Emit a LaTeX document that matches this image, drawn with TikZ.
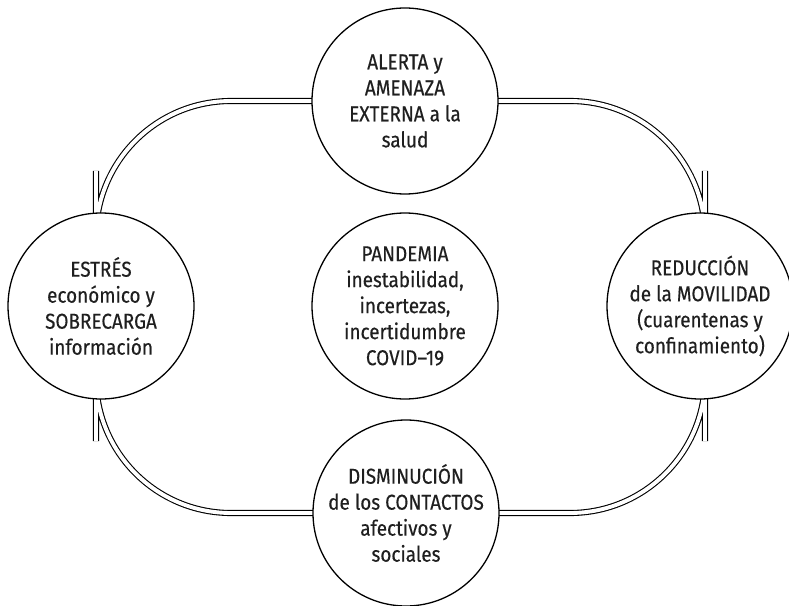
\documentclass[tikz,border=0pt]{standalone}
\usepackage{fontspec}
\setmainfont{Fira Sans}[FakeStretch=0.88,FakeBold=0.35]
\usetikzlibrary{backgrounds}
\begin{document}
\begin{tikzpicture}[x=1bp,y=-1bp,
  bubble/.style={circle, draw, line width=1.3bp, fill=white, minimum size=186bp,
    inner sep=0pt, align=center, text=black!88,
    font=\fontsize{21.5bp}{26bp}\selectfont},
  ring/.style={double, line width=1.1bp, double distance=3.9bp, rounded corners=135bp}]
\useasboundingbox (0,0) rectangle (789,606);
\node[bubble] (top) at (405,101) {ALERTA y\\AMENAZA\\EXTERNA a la\\salud};
\node[bubble] (left) at (101,306) {ESTRÉS\\económico y\\SOBRECARGA\\información};
\node[bubble] (center) at (405,306) {PANDEMIA\\inestabilidad,\\incertezas,\\incertidumbre\\COVID–19};
\node[bubble] (right) at (700,306) {REDUCCIÓN\\de la MOVILIDAD\\(cuarentenas y\\confinamiento)};
\node[bubble] (bottom) at (406,513) {DISMINUCIÓN\\de los CONTACTOS\\afectivos y\\sociales};
\begin{scope}[on background layer]
\draw[ring] ([xshift=-5bp]left.center) |- (top.center) -| ([xshift=5bp]right.center)
  |- (bottom.center) -| ([xshift=-5bp]left.center) -- cycle;
\end{scope}
\end{tikzpicture}
\end{document}
